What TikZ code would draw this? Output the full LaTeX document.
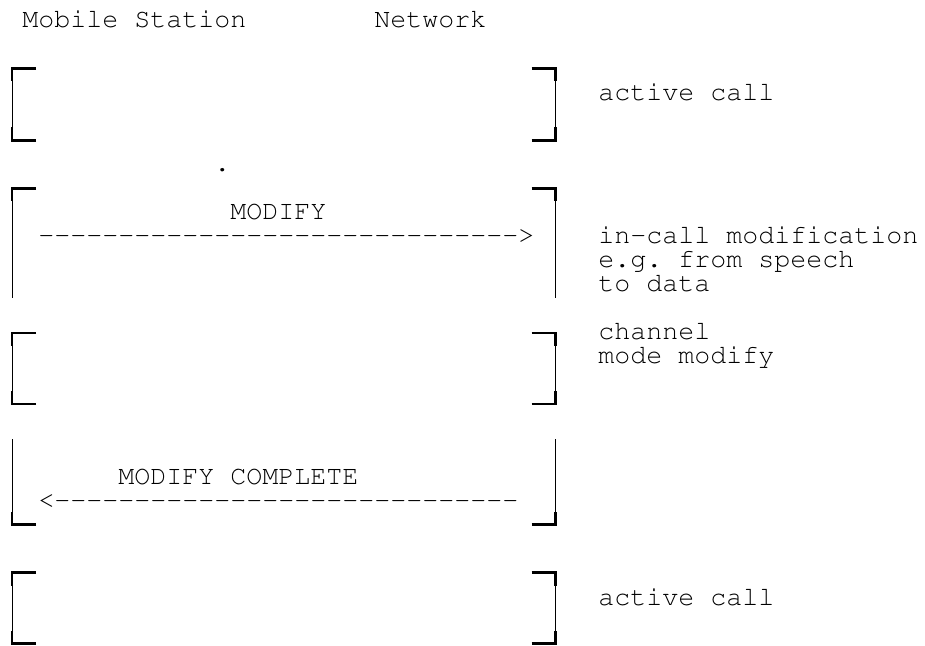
\documentclass[tikz,border=0pt]{standalone}
\usepackage[T1]{fontenc}
\usepackage{courier}
\frenchspacing
\newcommand\dashrun[1]{\foreach \i in {1,...,#1}{-\kern0pt}}
\begin{document}
\begin{tikzpicture}[x=0.5pt, y=-0.5pt,
  txt/.style={font=\ttfamily\fontsize{13.33}{12}\selectfont, anchor=base west, inner sep=0pt},
  rail/.style={line width=0.5pt},
  tick/.style={line width=1.1pt}]
  \useasboundingbox (0,0) rectangle (925,646);
  \def\lx{12}
  \def\rx{555.5}
  \def\tw{24}
  \def\th{13}
  % brackets: top / bottom / top tick / bottom tick
  \foreach \t/\b/\hasT/\hasB in {68.5/140.5/1/1, 188.5/298/1/0, 333/404/1/1,
                                 439/524.5/0/1, 572.5/643.5/1/1}{
    \draw[rail] (\lx,\t) -- (\lx,\b);
    \draw[rail] (\rx,\t) -- (\rx,\b);
    \ifnum\hasT=1
      \draw[tick] (\lx+\tw,\t) -- (\lx,\t) -- (\lx,\t+\th);
      \draw[tick] (\rx-\tw,\t) -- (\rx,\t) -- (\rx,\t+\th);
    \fi
    \ifnum\hasB=1
      \draw[tick] (\lx+\tw,\b) -- (\lx,\b) -- (\lx,\b-\th);
      \draw[tick] (\rx-\tw,\b) -- (\rx,\b) -- (\rx,\b-\th);
    \fi
  }
  % headings
  \node[txt] (ms) at (22,28) {Mobile Station};
  \node[txt] (nw) at (374,28) {Network};
  \node[txt] (act1) at (598,101) {active call};
  \node[txt] (dot) at (214,172) {.};
  % in-call modification
  \node[txt] (modify) at (230,220) {MODIFY};
  \node[txt] (modarrow) at (38,244) {\dashrun{30}>};
  \node[txt] (mod1) at (598,244) {in-call modification};
  \node[txt] (mod2) at (598,268) {e.g. from speech};
  \node[txt] (mod3) at (598,292) {to data};
  % channel mode modify
  \node[txt] (chan1) at (598,340) {channel};
  \node[txt] (chan2) at (598,364) {mode modify};
  % modify complete
  \node[txt] (complete) at (118,484) {MODIFY COMPLETE};
  \node[txt] (comparrow) at (38,508) {<\dashrun{29}};
  \node[txt] (act2) at (598,605) {active call};
\end{tikzpicture}
\end{document}
